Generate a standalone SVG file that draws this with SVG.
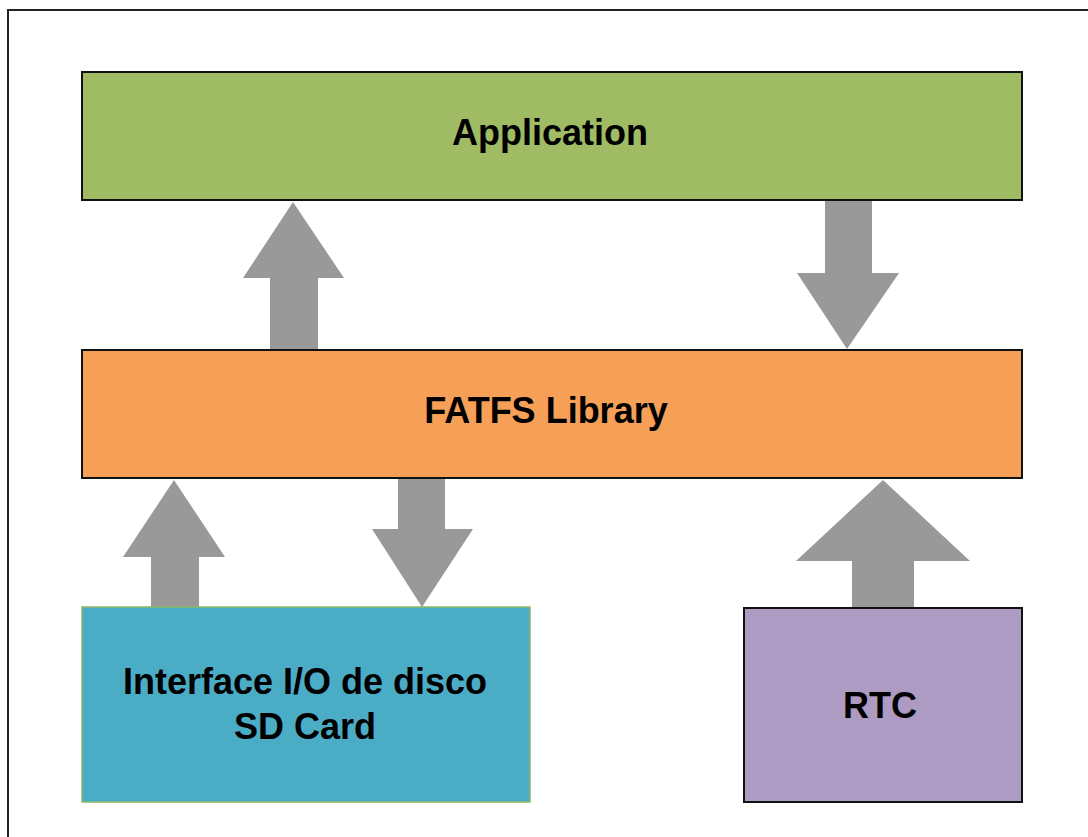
<svg xmlns="http://www.w3.org/2000/svg" width="1088" height="837" viewBox="0 0 1088 837">
  <style>
    .box { stroke-width: 2; }
    .lbl { font-family: "Liberation Sans", Arial, sans-serif; font-weight: bold; font-size: 36px; fill: #000; text-anchor: middle; }
    .arrow { fill: #999999; stroke: none; }
  </style>
  <rect x="0" y="0" width="1088" height="837" fill="#ffffff"/>
  <!-- outer frame, open to the right and bottom -->
  <rect x="8" y="10" width="1100" height="900" fill="none" stroke="#222222" stroke-width="2"/>

  <g id="connectors">
    <!-- FATFS -> Application -->
    <polygon class="arrow" points="270,350 270,278 243,278 293,202 344,278 318,278 318,350"/>
    <!-- Application -> FATFS -->
    <polygon class="arrow" points="825,201 872,201 872,273 899,273 847,349 797,273 825,273"/>
    <!-- SD Card -> FATFS -->
    <polygon class="arrow" points="151,607 151,557 123,557 174,480 225,557 199,557 199,607"/>
    <!-- FATFS -> SD Card -->
    <polygon class="arrow" points="398,479 445,479 445,529 473,529 422,607 372,529 398,529"/>
    <!-- RTC -> FATFS -->
    <polygon class="arrow" points="852,607 852,561 796,561 883,480 970,561 914,561 914,607"/>
  </g>

  <g id="application">
    <rect class="box" x="82" y="72" width="940" height="128" fill="#9fbb63" stroke="#111111"/>
    <text class="lbl" x="550" y="145">Application</text>
  </g>

  <g id="fatfs">
    <rect class="box" x="82" y="350" width="940" height="128" fill="#f59f57" stroke="#111111"/>
    <text class="lbl" x="546" y="423">FATFS Library</text>
  </g>

  <g id="sdcard">
    <rect x="82" y="607" width="448" height="195" fill="#4bacc6" stroke="#8db86a" stroke-width="1.5"/>
    <text class="lbl" x="305" y="694">Interface I/O de disco</text>
    <text class="lbl" x="305" y="739">SD Card</text>
  </g>

  <g id="rtc">
    <rect class="box" x="744" y="608" width="278" height="194" fill="#ae9bc3" stroke="#111111"/>
    <text class="lbl" x="880" y="718">RTC</text>
  </g>
</svg>
